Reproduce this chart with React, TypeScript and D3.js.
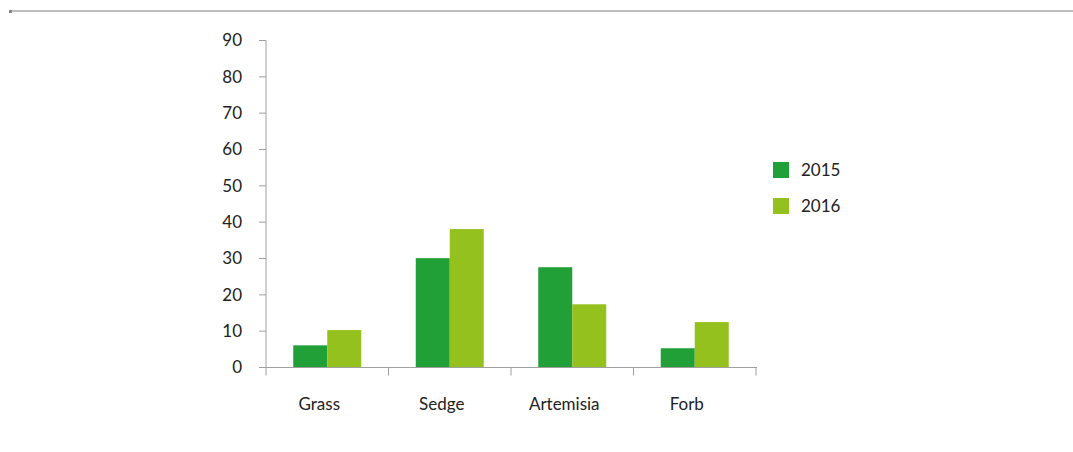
import React from "react";
import * as d3 from "d3";

const categories = ["Grass", "Sedge", "Artemisia", "Forb"];
const seriesNames = ["2015", "2016"];
const values2015 = [6.1, 30.1, 27.6, 5.3];
const values2016 = [10.3, 38.1, 17.4, 12.5];
const yTicks = [0, 10, 20, 30, 40, 50, 60, 70, 80, 90];
const colors = ["#21a038", "#95c11f"];

export default function App() {
  const W = 1073, H = 452;
  const x0 = 266, x1 = 756, yTop = 40.5, yBot = 367.5;
  const x = d3.scaleBand<string>().domain(categories).range([x0, x1]).paddingInner(0).paddingOuter(0);
  const y = d3.scaleLinear().domain([0, 90]).range([yBot, yTop]);
  const barW = 34;
  const series = [values2015, values2016];
  const font = "Lato, 'Open Sans', sans-serif";
  return (
    <svg width={W} height={H} style={{ position: "absolute", left: 0, top: 0 }}>
      <line x1={10} x2={1073} y1={11} y2={11} stroke="#a8a8a8" strokeWidth={1.5} />
      <rect x={9} y={10} width={3} height={3} fill="#888" />
      {/* y axis */}
      <line x1={x0} x2={x0} y1={yTop} y2={yBot} stroke="#a0a0a0" strokeWidth={1} />
      {yTicks.map((t) => (
        <g key={t}>
          <line x1={x0 - 7} x2={x0} y1={y(t)} y2={y(t)} stroke="#a0a0a0" />
          <text x={242} y={y(t)} dy="0.35em" textAnchor="end" fontFamily={font} fontSize={17} fill="#222">{t}</text>
        </g>
      ))}
      {/* bars */}
      {categories.map((c, i) => {
        const cx = (x(c) as number) + x.bandwidth() / 2;
        return series.map((vals, s) => (
          <rect key={c + s} x={cx - barW + s * barW} y={y(vals[i])} width={barW} height={yBot - y(vals[i])} fill={colors[s]} />
        ));
      })}
      {/* x axis */}
      <line x1={x0} x2={x1 + 1} y1={yBot} y2={yBot} stroke="#a0a0a0" />
      {[...categories.map((c) => x(c) as number), x1].map((px, i) => (
        <line key={i} x1={px} x2={px} y1={yBot} y2={yBot + 8} stroke="#a0a0a0" />
      ))}
      {categories.map((c) => (
        <text key={c} x={(x(c) as number) + x.bandwidth() / 2 - 8} y={410} textAnchor="middle" fontFamily={font} fontSize={17} fill="#222">{c}</text>
      ))}
      {/* legend */}
      {seriesNames.map((n, i) => (
        <g key={n}>
          <rect x={773} y={162 + i * 36} width={16} height={16} fill={colors[i]} />
          <text x={801} y={170 + i * 36} dy="0.35em" fontFamily={font} fontSize={17} fill="#222">{n}</text>
        </g>
      ))}
    </svg>
  );
}
